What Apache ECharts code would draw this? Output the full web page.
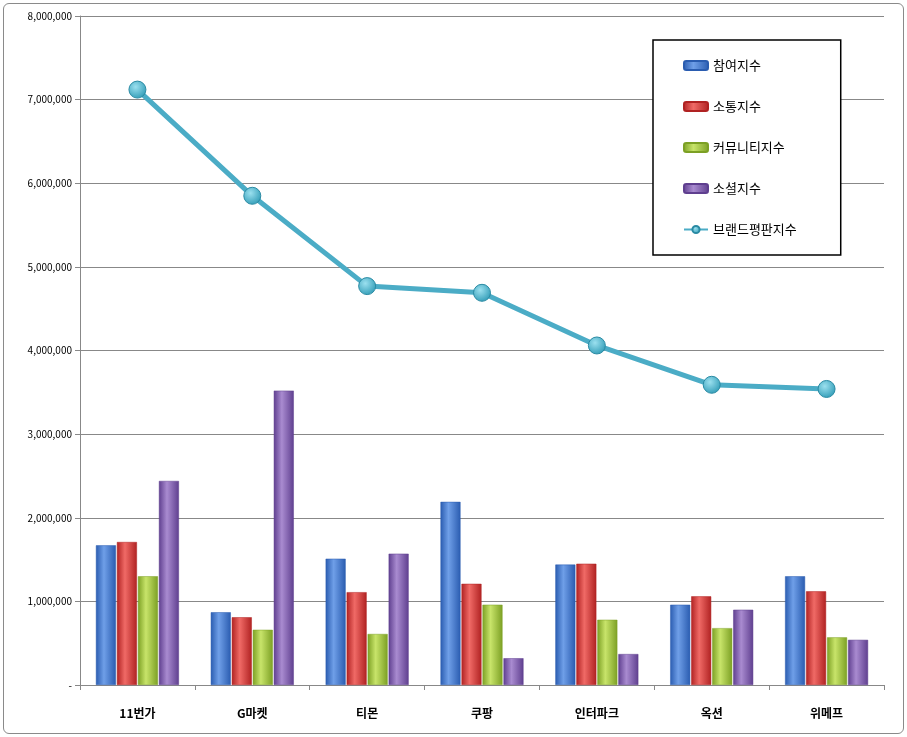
<!DOCTYPE html>
<html><head><meta charset="utf-8">
<script src="https://cdn.jsdelivr.net/npm/echarts@6/dist/echarts.min.js"></script>
<style>
html,body{margin:0;padding:0;background:#fff;}
#frame{position:absolute;left:3px;top:3px;width:899px;height:729px;border:1px solid #8a8a8a;border-radius:6px;}
#chart{width:907px;height:737px;}
</style></head>
<body><div id="frame"></div><div id="chart"></div>
<script>
const categories = ['11번가', 'G마켓', '티몬', '쿠팡', '인터파크', '옥션', '위메프'];
const participation = [1670000, 870000, 1510000, 2190000, 1440000, 960000, 1300000];
const communication = [1710000, 810000, 1110000, 1210000, 1450000, 1060000, 1120000];
const community = [1300000, 660000, 610000, 960000, 780000, 680000, 570000];
const social = [2440000, 3520000, 1570000, 320000, 370000, 900000, 540000];
const brandIndex = [7120000, 5850000, 4770000, 4690000, 4060000, 3590000, 3540000];

function grad(light, dark) {
  return new echarts.graphic.LinearGradient(0, 0, 1, 0, [
    { offset: 0, color: dark }, { offset: 0.4, color: light }, { offset: 1, color: dark }
  ]);
}
function bar(name, data, light, dark) {
  return { name, type: 'bar', data, barWidth: 20, barGap: '5%',
    itemStyle: { color: grad(light, dark), borderColor: dark, borderWidth: 0.5 } };
}

const chart = echarts.init(document.getElementById('chart'));
chart.setOption({
  animation: false,
  textStyle: { fontFamily: 'Noto Sans CJK KR, sans-serif' },
  grid: { left: 80, right: 23, top: 16, bottom: 52, containLabel: false },
  legend: {
    orient: 'vertical', left: 653, top: 40,
    padding: [19, 44, 19, 30], itemGap: 28,
    backgroundColor: '#fff', borderColor: '#000', borderWidth: 1.5,
    itemWidth: 24, itemHeight: 9,
    textStyle: { fontSize: 13, color: '#000' },
    data: ['참여지수', '소통지수', '커뮤니티지수', '소셜지수', '브랜드평판지수']
  },
  xAxis: {
    type: 'category', data: categories,
    axisLine: { lineStyle: { color: '#888' } },
    axisTick: { show: true, interval: 0, lineStyle: { color: '#888' } },
    axisLabel: { color: '#000', fontWeight: 'bold', fontSize: 12, margin: 22 }
  },
  yAxis: {
    type: 'value', min: 0, max: 8000000, interval: 1000000,
    axisLine: { show: true, lineStyle: { color: '#888' } },
    axisTick: { show: true, lineStyle: { color: '#888' } },
    splitLine: { lineStyle: { color: '#888' } },
    axisLabel: { color: '#000', fontSize: 10,
      formatter: v => v === 0 ? '-' : v.toLocaleString('en-US') }
  },
  series: [
    bar('참여지수', participation, '#6f9fe8', '#2a5cb0'),
    bar('소통지수', communication, '#f06a66', '#b02222'),
    bar('커뮤니티지수', community, '#c8e46a', '#7ca024'),
    bar('소셜지수', social, '#a98bd0', '#5f3f8f'),
    { name: '브랜드평판지수', type: 'line', data: brandIndex,
      symbol: 'circle', symbolSize: 17,
      lineStyle: { color: '#4bacc6', width: 5 },
      itemStyle: { color: new echarts.graphic.RadialGradient(0.4, 0.35, 0.7, [
        { offset: 0, color: '#9be0ef' }, { offset: 1, color: '#2e9ab5' }]),
        borderColor: '#2a8aa3', borderWidth: 1 } }
  ]
});
</script></body></html>
